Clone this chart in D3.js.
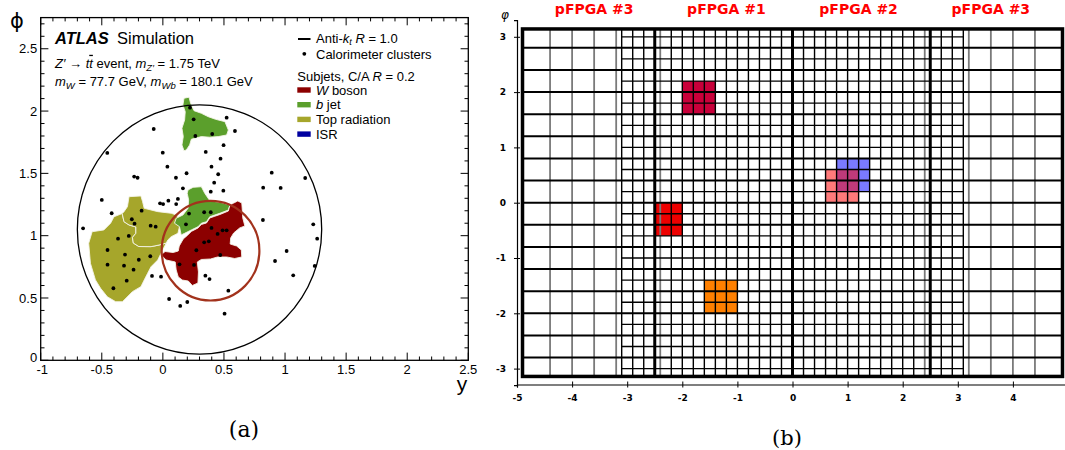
<!DOCTYPE html>
<html>
<head>
<meta charset="utf-8">
<script src="https://cdn.jsdelivr.net/npm/d3@7"></script>
<style>
  body { margin: 0; background: #fff; }
  svg { display: block; }
</style>
</head>
<body>
<svg id="chart"></svg>
<script>
// ---------- panel (a) data : y / phi of the event display ----------
const fatJet = [0.30, 1.05, 1.0];   // centre y, centre phi, R
const wCone  = [0.39, 0.88, 0.4];

const clusters = [
  [0.222,2.027],[0.252,1.934],[0.266,1.800],[0.404,1.816],[0.522,1.947],[0.590,1.840],
  [-0.075,1.856],[-0.455,1.664],[-0.001,1.666],[0.351,1.672],[0.497,1.726],[0.472,1.618],
  [0.037,1.554],[0.398,1.554],[0.453,1.493],[0.194,1.501],[0.107,1.465],[-0.235,1.474],
  [-0.207,1.465],[0.420,1.425],[0.164,1.380],[0.392,1.353],[0.495,1.361],[0.891,1.506],
  [0.821,1.385],[0.964,1.383],[1.165,1.463],[-0.500,1.287],[-0.419,1.180],[-0.653,1.059],
  [-0.023,1.260],[0.002,1.254],[0.045,1.281],[0.109,1.254],[0.123,1.295],[0.819,1.126],
  [1.231,1.091],[1.263,0.976],[1.013,0.877],[0.918,0.797],[1.067,0.682],[1.243,0.757],
  [-0.174,1.201],[-0.254,1.132],[-0.232,1.096],[-0.100,1.080],[-0.059,1.072],[-0.367,0.976],
  [-0.279,0.998],[-0.453,0.885],[-0.310,0.848],[-0.197,0.807],[-0.103,0.835],[-0.453,0.767],
  [-0.318,0.759],[-0.240,0.727],[-0.296,0.639],[-0.405,0.578],[-0.089,0.677],[-0.015,0.671],
  [0.214,1.177],[0.338,1.188],[0.392,1.188],[0.189,1.091],[0.398,1.062],[0.448,1.014],
  [0.489,1.043],[0.522,1.043],[0.338,0.947],[0.376,0.955],[0.274,0.883],[0.470,0.845],
  [0.136,0.770],[0.255,0.765],[0.348,0.679],[0.382,0.652],[0.536,0.559],[0.051,0.492],
  [0.142,0.436],[0.200,0.468],[0.505,0.374]
];

const bjetUpper = [
  [0.173,2.103],[0.214,2.111],[0.227,2.063],[0.255,2.003],[0.315,1.982],[0.371,1.955],
  [0.431,1.934],[0.508,1.915],[0.536,1.848],[0.522,1.808],[0.453,1.795],[0.384,1.790],
  [0.315,1.795],[0.233,1.774],[0.219,1.728],[0.192,1.688],[0.173,1.682],[0.156,1.728],
  [0.167,1.795],[0.156,1.862],[0.178,1.929],[0.183,1.995],[0.164,2.049]
];
const bjetLower = [
  [0.206,1.367],[0.247,1.388],[0.315,1.393],[0.343,1.340],[0.384,1.281],[0.481,1.265],
  [0.549,1.246],[0.536,1.206],[0.467,1.180],[0.425,1.166],[0.384,1.152],[0.357,1.112],
  [0.315,1.100],[0.288,1.072],[0.233,1.046],[0.178,1.019],[0.150,1.006],[0.136,1.072],
  [0.095,1.100],[0.109,1.140],[0.164,1.166],[0.206,1.220],[0.211,1.287],[0.199,1.340]
];
const wBoson = [
  [0.134,0.917],[0.167,0.974],[0.200,1.002],[0.233,1.034],[0.288,1.062],[0.315,1.090],
  [0.357,1.102],[0.384,1.142],[0.425,1.156],[0.467,1.170],[0.536,1.198],[0.549,1.246],
  [0.580,1.262],[0.613,1.279],[0.646,1.262],[0.650,1.206],[0.654,1.142],[0.671,1.078],
  [0.629,1.062],[0.580,1.022],[0.555,0.982],[0.551,0.933],[0.604,0.917],[0.642,0.885],
  [0.646,0.829],[0.588,0.817],[0.522,0.829],[0.448,0.829],[0.390,0.813],[0.315,0.809],
  [0.282,0.789],[0.291,0.709],[0.287,0.620],[0.241,0.600],[0.208,0.636],[0.159,0.644],
  [0.126,0.669],[0.109,0.725],[0.101,0.789],[0.026,0.805],[-0.015,0.846],[0.018,0.873],
  [0.084,0.865],[0.126,0.877]
];
const topRadUpper = [
  [-0.333,1.178],[-0.318,1.193],[-0.290,1.233],[-0.277,1.313],[-0.180,1.319],[-0.166,1.273],
  [-0.153,1.220],[-0.042,1.193],[0.068,1.180],[0.109,1.166],[0.136,1.127],[0.136,1.072],
  [0.123,1.019],[0.068,0.992],[0.040,0.965],[0.028,0.941],[-0.031,0.925],[-0.097,0.912],
  [-0.197,0.913],[-0.242,0.941],[-0.249,0.986],[-0.221,1.019],[-0.221,1.070],[-0.277,1.086],
  [-0.318,1.112]
];
const topRadLower = [
  [-0.333,1.178],[-0.318,1.112],[-0.277,1.086],[-0.221,1.070],[-0.221,1.019],[-0.249,0.986],
  [-0.242,0.941],[-0.197,0.913],[-0.097,0.912],[-0.031,0.925],[0.028,0.941],[-0.015,0.859],
  [-0.042,0.805],[-0.097,0.751],[-0.125,0.698],[-0.153,0.644],[-0.180,0.591],[-0.249,0.551],
  [-0.331,0.470],[-0.386,0.470],[-0.455,0.510],[-0.510,0.578],[-0.552,0.645],[-0.593,0.778],
  [-0.607,0.939],[-0.579,1.032],[-0.483,1.046],[-0.428,1.100],[-0.400,1.152]
];
const subjets = [
  { kind: "top", pts: topRadLower },
  { kind: "top", pts: topRadUpper },
  { kind: "b",   pts: bjetUpper },
  { kind: "b",   pts: bjetLower },
  { kind: "w",   pts: wBoson }
];
const subjetKinds  = ["w", "b", "top", "isr"];
const subjetLabels = [["W", " boson"], ["b", " jet"], ["", "Top radiation"], ["", "ISR"]];
const subjetColour = { w: "#8c0000", b: "#5b9f2c", top: "#a6a62b", isr: "#0000a0" };

const xTickLabels = ["-1", "-0.5", "0", "0.5", "1", "1.5", "2", "2.5"];
const yTickLabels = ["0", "0.5", "1", "1.5", "2", "2.5"];

// ---------- panel (b) data : eta / phi tower map ----------
const etaTicks = [-5, -4, -3, -2, -1, 0, 1, 2, 3, 4];
const phiTicks = [-3, -2, -1, 0, 1, 2, 3];
const etaThick = [-2.5, 0, 2.5];
const etaBlack = [-3.1, -2.9, -2.7, -2.2, -2.0, -1.8, -1.6, -1.4, -1.2, -1.0, -0.8, -0.6, -0.4, -0.2,
                  0.2, 0.4, 0.6, 0.8, 1.0, 1.2, 1.4, 1.6, 1.8, 2.0, 2.2, 2.7, 2.9, 3.1];
const etaGrey  = [-4.4, -4.0, -3.6, -3.2, -2.4, 2.4, 3.2, 3.6, 4.0, 4.4];
const phiCoarse = [-2.8, -2.4, -2.0, -1.6, -1.2, -0.8, -0.4, 0, 0.4, 0.8, 1.2, 1.6, 2.0, 2.4, 2.8];
const phiFine   = [-3.0, -2.6, -2.2, -1.8, -1.4, -1.0, -0.6, -0.2, 0.2, 0.6, 1.0, 1.4, 1.8, 2.2, 2.6, 3.0];
const etaEdge = 4.9, etaFineEdge = 3.1, phiEdge = Math.PI;

const pfpgaNames = ["pFPGA #3", "pFPGA #1", "pFPGA #2", "pFPGA #3"];
const pfpgaEta   = [-3.6, -1.2, 1.2, 3.6];

const triggerBlocks = [
  { name: "crimson", eta: [-2.0, -1.4], phi: [1.6, 2.2] },
  { name: "red",     eta: [-2.5, -2.0], phi: [-0.6, 0.0] },
  { name: "orange",  eta: [-1.6, -1.0], phi: [-2.0, -1.4] },
  { name: "blue",    eta: [0.8, 1.4],   phi: [0.2, 0.8] },
  { name: "salmon",  eta: [0.6, 1.2],   phi: [0.0, 0.6] }
];
const blockFill = { crimson: "#c8003a", red: "#ee0000", orange: "#ff8000", blue: "#0000ff", salmon: "#ff0000" };
const blockAlpha = { crimson: 1, red: 1, orange: 1, blue: 0.52, salmon: 0.52 };

// ================================================================
const svg = d3.select("#chart").attr("width", 1065).attr("height", 450);
const sans = "'Liberation Sans', Arial, sans-serif";

// ---------------- panel (a) ----------------
const xL = d3.scaleLinear().domain([-1, 2.5]).range([40.7, 468.3]);
const yL = d3.scaleLinear().domain([0, 2.75]).range([360.3, 17.6]);
const ga = svg.append("g");

const shape = d3.line().x(d => xL(d[0])).y(d => yL(d[1])).curve(d3.curveLinearClosed);

ga.selectAll(".subjet")
    .data(subjets)
    .enter().append("path")
    .attr("class", "subjet")
    .attr("d", d => shape(d.pts))
    .attr("fill", d => subjetColour[d.kind])
    .attr("stroke", "#f4f4e8")
    .attr("stroke-width", 0.9)
    .attr("stroke-linejoin", "round");

ga.append("ellipse")
    .attr("cx", xL(fatJet[0])).attr("cy", yL(fatJet[1]))
    .attr("rx", xL(fatJet[0] + fatJet[2]) - xL(fatJet[0]))
    .attr("ry", yL(fatJet[1]) - yL(fatJet[1] + fatJet[2]))
    .attr("fill", "none").attr("stroke", "#000").attr("stroke-width", 1.3);

ga.append("ellipse")
    .attr("cx", xL(wCone[0])).attr("cy", yL(wCone[1]))
    .attr("rx", xL(wCone[0] + wCone[2]) - xL(wCone[0]))
    .attr("ry", yL(wCone[1]) - yL(wCone[1] + wCone[2]))
    .attr("fill", "none").attr("stroke", "#a2321c").attr("stroke-width", 2.2);

ga.selectAll(".cluster")
    .data(clusters)
    .enter().append("circle")
    .attr("class", "cluster")
    .attr("cx", d => xL(d[0]))
    .attr("cy", d => yL(d[1]))
    .attr("r", 1.9)
    .attr("fill", "#000");

// frame + ROOT style ticks on all four sides
ga.append("rect")
    .attr("x", xL(-1)).attr("y", yL(2.75))
    .attr("width", xL(2.5) - xL(-1)).attr("height", yL(0) - yL(2.75))
    .attr("fill", "none").attr("stroke", "#000").attr("stroke-width", 1.3);

const isMajor = v => Math.abs(v * 2 - Math.round(v * 2)) < 1e-6;
const xMinor = d3.range(-10, 26).map(i => i / 10);
const yMinor = d3.range(0, 28).map(i => i / 10);
const tickG = ga.append("g").attr("stroke", "#000").attr("stroke-width", 1);
xMinor.forEach(v => {
    const len = isMajor(v) ? 7.7 : 3.8;
    tickG.append("line").attr("x1", xL(v)).attr("x2", xL(v)).attr("y1", yL(0)).attr("y2", yL(0) - len);
    tickG.append("line").attr("x1", xL(v)).attr("x2", xL(v)).attr("y1", yL(2.75)).attr("y2", yL(2.75) + len);
});
yMinor.forEach(v => {
    const len = isMajor(v) ? 7.7 : 3.8;
    tickG.append("line").attr("y1", yL(v)).attr("y2", yL(v)).attr("x1", xL(-1)).attr("x2", xL(-1) + len);
    tickG.append("line").attr("y1", yL(v)).attr("y2", yL(v)).attr("x1", xL(2.5)).attr("x2", xL(2.5) - len);
});

ga.selectAll(".xlab")
    .data(xTickLabels)
    .enter().append("text")
    .attr("x", d => xL(+d) + (d === "-1" ? 1.5 : 0)).attr("y", yL(0) + 13.5)
    .attr("text-anchor", "middle")
    .style("font-family", sans).style("font-size", "13px")
    .text(d => d);

ga.selectAll(".ylab")
    .data(yTickLabels)
    .enter().append("text")
    .attr("x", xL(-1) - 3.5).attr("y", d => yL(+d) + (d === "0" ? 1.5 : 4.6))
    .attr("text-anchor", "end")
    .style("font-family", sans).style("font-size", "13px")
    .text(d => d);

ga.append("text").attr("x", 17).attr("y", 28).attr("text-anchor", "middle")
    .style("font-family", "'DejaVu Sans', sans-serif").style("font-size", "21px").text("ϕ");
ga.append("text").attr("x", 462).attr("y", 391).attr("text-anchor", "middle")
    .style("font-family", sans).style("font-size", "21px").text("y");

// ATLAS label block
const atl = ga.append("text").attr("x", 55).attr("y", 44.3)
    .style("font-family", sans).style("font-size", "16.5px");
atl.append("tspan").style("font-weight", "bold").style("font-style", "italic").text("ATLAS");
atl.append("tspan").attr("x", 117).text("Simulation");

const l1 = ga.append("text").attr("x", 55).attr("y", 67.8)
    .style("font-family", sans).style("font-size", "13px");
l1.append("tspan").style("font-style", "italic").text("Z′");
l1.append("tspan").text(" → ");
l1.append("tspan").style("font-style", "italic").text("t");
l1.append("tspan").style("font-style", "italic").style("text-decoration", "overline").text("t");
l1.append("tspan").text(" event, ");
l1.append("tspan").style("font-style", "italic").text("m");
l1.append("tspan").style("font-style", "italic").style("font-size", "9.5px").attr("dy", 3).text("Z′");
l1.append("tspan").attr("dy", -3).text(" = 1.75 TeV");

const l2 = ga.append("text").attr("x", 55).attr("y", 86)
    .style("font-family", sans).style("font-size", "13px");
l2.append("tspan").style("font-style", "italic").text("m");
l2.append("tspan").style("font-style", "italic").style("font-size", "9.5px").attr("dy", 3).text("W");
l2.append("tspan").attr("dy", -3).text(" = 77.7 GeV, ");
l2.append("tspan").style("font-style", "italic").text("m");
l2.append("tspan").style("font-style", "italic").style("font-size", "9.5px").attr("dy", 3).text("Wb");
l2.append("tspan").attr("dy", -3).text(" = 180.1 GeV");

// legend
const lg = ga.append("g").style("font-family", sans).style("font-size", "13px");
lg.append("line").attr("x1", 298).attr("x2", 310.5).attr("y1", 39).attr("y2", 39)
    .attr("stroke", "#000").attr("stroke-width", 2);
const lt1 = lg.append("text").attr("x", 316).attr("y", 43.4);
lt1.append("tspan").text("Anti-");
lt1.append("tspan").style("font-style", "italic").text("k");
lt1.append("tspan").style("font-style", "italic").style("font-size", "9px").attr("dy", 1.5).text("t");
lt1.append("tspan").attr("dy", -1.5).text(" ");
lt1.append("tspan").style("font-style", "italic").text("R");
lt1.append("tspan").text(" = 1.0");
lg.append("circle").attr("cx", 304.3).attr("cy", 53.8).attr("r", 1.9).attr("fill", "#000");
lg.append("text").attr("x", 316).attr("y", 59).text("Calorimeter clusters");
const lt3 = lg.append("text").attr("x", 297.3).attr("y", 80.5);
lt3.append("tspan").text("Subjets, C/A ");
lt3.append("tspan").style("font-style", "italic").text("R");
lt3.append("tspan").text(" = 0.2");

subjetKinds.forEach((k, i) => {
    const cy = 90 + i * 14.7;
    lg.append("rect").attr("x", 297.3).attr("y", cy - 2.7).attr("width", 13.4).attr("height", 5.4)
        .attr("fill", subjetColour[k]);
    const t = lg.append("text").attr("x", 316).attr("y", cy + 4.6);
    if (subjetLabels[i][0]) t.append("tspan").style("font-style", "italic").text(subjetLabels[i][0]);
    t.append("tspan").text(subjetLabels[i][1]);
});

svg.append("text").attr("x", 244).attr("y", 437).attr("text-anchor", "middle")
    .style("font-family", "'DejaVu Serif', serif").style("font-size", "22px").text("(a)");

// ---------------- panel (b) ----------------
const xR = d3.scaleLinear().domain([-5, 5]).range([517, 1068]);
const yR = d3.scaleLinear().domain([-3.3, 3.3]).range([385.2, 20.2]);
const gb = svg.append("g");

gb.selectAll(".block")
    .data(triggerBlocks)
    .enter().append("rect")
    .attr("class", "block")
    .attr("x", d => xR(d.eta[0]))
    .attr("y", d => yR(d.phi[1]))
    .attr("width", d => xR(d.eta[1]) - xR(d.eta[0]))
    .attr("height", d => yR(d.phi[0]) - yR(d.phi[1]))
    .attr("fill", d => blockFill[d.name])
    .attr("fill-opacity", d => blockAlpha[d.name]);

function hLines(vals, e0, e1, colour, w) {
    gb.append("g").selectAll("line")
        .data(vals)
        .enter().append("line")
        .attr("x1", xR(e0)).attr("x2", xR(e1))
        .attr("y1", d => yR(d)).attr("y2", d => yR(d))
        .attr("stroke", colour).attr("stroke-width", w);
}
function vLines(vals, colour, w) {
    gb.append("g").selectAll("line")
        .data(vals)
        .enter().append("line")
        .attr("x1", d => xR(d)).attr("x2", d => xR(d))
        .attr("y1", yR(-phiEdge)).attr("y2", yR(phiEdge))
        .attr("stroke", colour).attr("stroke-width", w);
}
vLines(etaGrey, "#7a7a7a", 1.8);
hLines(phiFine, -etaFineEdge, etaFineEdge, "#000", 1.3);
hLines(phiCoarse, -etaEdge, etaEdge, "#000", 2);
vLines(etaBlack, "#000", 1.4);
vLines(etaThick, "#000", 3);

gb.append("rect")
    .attr("x", xR(-etaEdge)).attr("y", yR(phiEdge))
    .attr("width", xR(etaEdge) - xR(-etaEdge))
    .attr("height", yR(-phiEdge) - yR(phiEdge))
    .attr("fill", "none").attr("stroke", "#000").attr("stroke-width", 3.5);

const bold = "'DejaVu Sans', sans-serif";
const xAxisR = gb.append("g")
    .attr("transform", "translate(0,384.5)")
    .call(d3.axisBottom(xR).tickValues(etaTicks).tickFormat(d => String(d))
        .tickSizeOuter(0).tickSize(3).tickPadding(7));
const yAxisR = gb.append("g")
    .attr("transform", `translate(${xR(-5)},0)`)
    .call(d3.axisLeft(yR).tickValues(phiTicks).tickFormat(d => String(d))
        .tickSizeOuter(0).tickSize(3).tickPadding(8));
xAxisR.selectAll(".tick line").attr("y1", -3).attr("y2", 3);
yAxisR.selectAll(".tick line").attr("x1", 3).attr("x2", -3);
[xAxisR, yAxisR].forEach(a => {
    a.select(".domain").attr("stroke-width", 1.2);
    a.selectAll("text").style("font-family", bold).style("font-weight", "bold").style("font-size", "9px");
});

gb.append("text").attr("x", 505).attr("y", 19).attr("text-anchor", "middle")
    .style("font-family", bold).style("font-style", "italic").style("font-size", "12px").text("φ");

gb.selectAll(".pfpga")
    .data(pfpgaNames)
    .enter().append("text")
    .attr("x", (d, i) => xR(pfpgaEta[i])).attr("y", 14)
    .attr("text-anchor", "middle")
    .style("font-family", bold).style("font-weight", "bold").style("font-size", "14px")
    .style("fill", "#ff0000")
    .text(d => d);

svg.append("text").attr("x", 787).attr("y", 445).attr("text-anchor", "middle")
    .style("font-family", "'DejaVu Serif', serif").style("font-size", "21px").text("(b)");
</script>
</body>
</html>
